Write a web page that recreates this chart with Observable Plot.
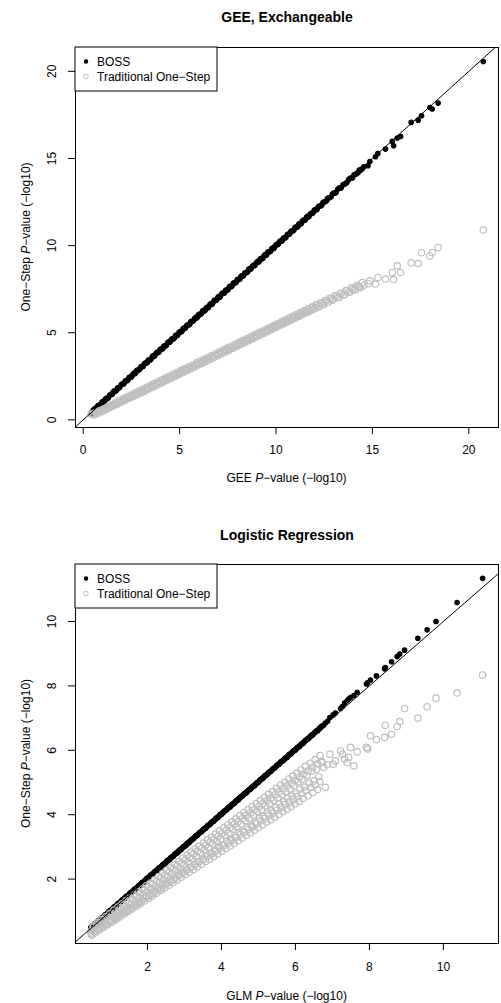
<!DOCTYPE html>
<html><head><meta charset="utf-8">
<script src="https://cdn.jsdelivr.net/npm/d3@7"></script>
<script src="https://cdn.jsdelivr.net/npm/@observablehq/plot@0.6"></script>
<style>
body{margin:0;background:#fff;}
#chart{width:501px;}
#chart svg{display:block;overflow:visible;}
</style></head><body><div id="chart"></div>
<script>
// ---------- Panel 1: GEE, Exchangeable ----------
const geeTitle = "GEE, Exchangeable";
const geeXName = "GEE";
const geeXTicks = [0, 5, 10, 15, 20];
const geeYTicks = [0, 5, 10, 15, 20];
// SNP set A: GEE -log10 p (x), BOSS one-step, traditional one-step
const geeX = [
  0.41,0.52,0.63,0.71,0.80,0.92,1.01,1.12,1.20,1.31,
  1.43,1.52,1.61,1.73,1.82,1.90,2.03,2.12,2.21,2.33,
  2.41,2.52,2.64,2.72,2.81,2.93,3.02,3.11,3.24,3.33,
  3.41,3.52,3.63,3.71,3.82,3.94,4.02,4.13,4.21,4.32,
  4.44,4.52,4.61,4.73,4.82,4.91,5.03,5.12,5.24,5.31,
  5.42,5.53,5.61,5.72,5.84,5.92,6.01,6.13,6.22,6.34,
  6.42,6.51,6.63,6.71,6.82,6.94,7.03,7.11,7.22,7.34,
  7.43,7.52,7.61,7.73,7.82,7.93,8.02,8.14,8.23,8.31,
  8.42,8.53,8.62,8.71,8.83,8.92,9.04,9.13,9.21,9.32,
  9.44,9.52,9.61,9.73,9.82,9.91,10.03,10.12,10.24,10.33,
  10.41,10.52,10.63,10.72,10.81,10.93,11.02,11.14,11.22,11.31,
  11.43,11.52,11.64,11.71,11.83,11.92,12.04,12.13,12.25,12.38,
  12.47,12.62,12.71,12.86,12.98,13.12,13.27,13.38,13.55,13.68,
  13.84,13.97,14.12,14.26,14.38,
  14.56,14.77,14.87,15.16,15.28,15.68,16.03,16.10,16.29,16.46,
  17.01,17.37,17.55,17.98,18.10,18.41,20.75
];
const geeBoss = [
  0.38,0.55,0.66,0.69,0.84,0.90,1.05,1.10,1.24,1.28,
  1.47,1.50,1.66,1.70,1.86,1.88,2.07,2.09,2.25,2.30,
  2.45,2.49,2.68,2.70,2.86,2.90,3.06,3.08,3.28,3.30,
  3.45,3.49,3.67,3.69,3.87,3.91,4.06,4.10,4.25,4.29,
  4.48,4.49,4.65,4.70,4.87,4.88,5.07,5.09,5.28,5.28,
  5.46,5.50,5.66,5.69,5.88,5.89,6.05,6.10,6.27,6.31,
  6.46,6.48,6.67,6.68,6.87,6.91,7.07,7.08,7.27,7.30,
  7.47,7.49,7.66,7.69,7.86,7.90,8.07,8.10,8.27,8.28,
  8.46,8.49,8.67,8.68,8.87,8.88,9.08,9.10,9.26,9.28,
  9.48,9.49,9.65,9.69,9.86,9.88,10.07,10.09,10.28,10.29,
  10.45,10.48,10.67,10.69,10.85,10.89,11.06,11.10,11.26,11.27,
  11.47,11.48,11.68,11.67,11.86,11.88,12.07,12.09,12.27,12.33,
  12.50,12.57,12.73,12.80,13.01,13.05,13.30,13.32,13.52,13.62,
  13.86,13.90,14.09,14.20,14.33,
  14.52,14.58,14.83,15.10,15.29,15.54,15.98,15.73,16.17,16.26,
  17.07,17.20,17.45,17.93,17.84,18.18,20.57
];
const geeTrad = [
  0.33,0.36,0.40,0.45,0.49,0.52,0.58,0.63,0.66,0.72,
  0.79,0.82,0.88,0.93,1.00,1.03,1.09,1.16,1.19,1.27,
  1.31,1.35,1.44,1.47,1.52,1.60,1.62,1.69,1.76,1.78,
  1.85,1.91,1.95,2.01,2.07,2.11,2.18,2.22,2.28,2.34,
  2.38,2.45,2.49,2.53,2.61,2.64,2.71,2.77,2.81,2.88,
  2.92,2.98,3.04,3.06,3.16,3.18,3.25,3.28,3.36,3.42,
  3.44,3.52,3.57,3.60,3.69,3.72,3.80,3.82,3.90,3.97,
  3.99,4.07,4.10,4.17,4.23,4.25,4.34,4.38,4.41,4.49,
  4.51,4.60,4.63,4.70,4.72,4.82,4.84,4.93,4.95,5.03,
  5.06,5.14,5.16,5.25,5.26,5.35,5.37,5.46,5.48,5.57,
  5.56,5.68,5.69,5.79,5.78,5.91,5.89,6.02,5.99,6.12,
  6.10,6.23,6.21,6.35,6.30,6.46,6.41,6.58,6.52,6.70,
  6.62,6.83,6.75,6.95,6.90,7.10,7.02,7.25,7.18,7.41,
  7.33,7.52,7.46,7.66,7.58,
  7.72,7.83,7.98,7.79,8.17,8.08,8.46,8.05,8.84,8.46,
  9.01,8.97,9.59,9.41,9.60,9.89,10.89
];
// SNP set B
const geeX2 = [
  0.46,0.57,0.67,0.76,0.86,0.97,1.06,1.16,1.26,1.37,
  1.48,1.56,1.67,1.78,1.86,1.97,2.08,2.17,2.27,2.37,
  2.47,2.58,2.68,2.77,2.87,2.98,3.07,3.17,3.29,3.37,
  3.47,3.58,3.67,3.77,3.88,3.98,4.08,4.17,4.27,4.38,
  4.48,4.57,4.67,4.78,4.87,4.97,5.08,5.18,5.28,5.37,
  5.48,5.57,5.67,5.78,5.88,5.97,6.07,6.18,6.28,6.38,
  6.47,6.57,6.67,6.77,6.88,6.98,7.07,7.17,7.28,7.38,
  7.48,7.57,7.67,7.78,7.88,7.98,8.08,8.18,8.27,8.37,
  8.48,8.58,8.67,8.77,8.88,8.98,9.08,9.17,9.27,9.38,
  9.48,9.57,9.67,9.78,9.87,9.97,10.08,10.18,10.28,10.37,
  10.47,10.58,10.68,10.77,10.87,10.98,11.08,11.18,11.27,11.37,
  11.48,11.58,11.68,11.77,11.88,11.98,12.08,12.19,12.31,12.43,
  12.55,12.67,12.79,12.92,13.05,13.20,13.33,13.47,13.62,13.76,
  13.91,14.05,14.19,14.32,14.47
];
const geeBoss2 = [
  0.44,0.60,0.64,0.80,0.83,1.01,1.03,1.20,1.22,1.41,
  1.45,1.60,1.64,1.82,1.83,2.01,2.05,2.21,2.24,2.41,
  2.44,2.62,2.65,2.81,2.84,3.02,3.04,3.21,3.26,3.41,
  3.44,3.62,3.64,3.81,3.85,4.02,4.05,4.21,4.24,4.42,
  4.45,4.61,4.64,4.82,4.84,5.01,5.05,5.22,5.25,5.41,
  5.45,5.61,5.64,5.82,5.85,6.01,6.04,6.22,6.25,6.42,
  6.44,6.61,6.64,6.81,6.85,7.02,7.04,7.21,7.25,7.42,
  7.45,7.61,7.64,7.82,7.85,8.02,8.05,8.22,8.24,8.41,
  8.45,8.62,8.64,8.81,8.85,9.02,9.05,9.21,9.24,9.42,
  9.45,9.61,9.64,9.82,9.84,10.01,10.05,10.22,10.25,10.41,
  10.44,10.62,10.65,10.81,10.84,11.02,11.05,11.22,11.24,11.41,
  11.45,11.62,11.65,11.81,11.85,12.02,12.05,12.23,12.28,12.46,
  12.52,12.70,12.75,12.95,13.01,13.23,13.29,13.49,13.58,13.78,
  13.87,14.07,14.14,14.34,14.41
];
const geeTrad2 = [
  0.34,0.28,0.42,0.38,0.53,0.47,0.62,0.58,0.73,0.70,
  0.86,0.80,0.98,0.91,1.09,1.01,1.21,1.12,1.32,1.22,
  1.42,1.33,1.54,1.43,1.64,1.54,1.75,1.63,1.87,1.75,
  1.97,1.85,2.08,1.95,2.19,2.07,2.30,2.17,2.41,2.28,
  2.52,2.38,2.62,2.50,2.73,2.60,2.84,2.71,2.95,2.81,
  3.05,2.92,3.15,3.03,3.27,3.14,3.37,3.25,3.48,3.36,
  3.58,3.46,3.69,3.56,3.80,3.68,3.91,3.78,4.02,3.89,
  4.13,4.00,4.23,4.11,4.34,4.22,4.45,4.32,4.55,4.42,
  4.66,4.54,4.77,4.64,4.88,4.75,4.99,4.85,5.09,4.97,
  5.20,5.07,5.30,5.18,5.41,5.28,5.52,5.40,5.63,5.50,
  5.73,5.61,5.85,5.71,5.95,5.83,6.06,5.93,6.16,6.04,
  6.27,6.15,6.38,6.25,6.49,6.36,6.60,6.48,6.72,6.61,
  6.85,6.73,6.98,6.87,7.12,7.02,7.27,7.16,7.42,7.32,
  7.58,7.47,7.73,7.62,7.88
];

// ---------- Panel 2: Logistic Regression ----------
const glmTitle = "Logistic Regression";
const glmXName = "GLM";
const glmXTicks = [2, 4, 6, 8, 10];
const glmYTicks = [2, 4, 6, 8, 10];
// SNP set A
const glmX = [
  0.47,0.50,0.56,0.61,0.66,0.73,0.78,0.84,0.89,0.95,
  1.00,1.06,1.12,1.17,1.22,1.28,1.34,1.39,1.45,1.50,
  1.55,1.61,1.67,1.72,1.78,1.83,1.88,1.94,2.00,2.05,
  2.11,2.16,2.22,2.27,2.33,2.39,2.44,2.49,2.55,2.61,
  2.66,2.71,2.77,2.83,2.88,2.93,2.99,3.05,3.10,3.15,
  3.21,3.27,3.32,3.37,3.43,3.49,3.54,3.59,3.65,3.71,
  3.76,3.81,3.87,3.93,3.98,4.03,4.09,4.15,4.20,4.25,
  4.31,4.37,4.42,4.47,4.53,4.59,4.64,4.69,4.75,4.81,
  4.86,4.91,4.97,5.03,5.08,5.13,5.19,5.25,5.30,5.35,
  5.41,5.47,5.52,5.57,5.63,5.69,5.74,5.79,5.85,5.91,
  5.96,6.01,6.07,6.13,6.18,6.24,6.31,6.37,6.44,6.50,
  6.57,6.63,6.72,6.76,6.81,6.87,
  6.93,7.02,7.08,7.22,7.27,7.33,7.40,7.44,7.49,7.58,
  7.67,7.92,7.95,8.03,8.19,8.41,8.43,8.60,8.75,8.82,
  8.95,9.31,9.56,9.80,10.37,11.06
];
const glmBoss = [
  0.49,0.52,0.58,0.64,0.68,0.76,0.80,0.87,0.91,0.98,
  1.03,1.08,1.15,1.19,1.25,1.30,1.37,1.41,1.48,1.52,
  1.58,1.63,1.70,1.74,1.81,1.85,1.91,1.96,2.03,2.07,
  2.14,2.18,2.25,2.29,2.36,2.41,2.47,2.51,2.58,2.63,
  2.69,2.73,2.80,2.85,2.91,2.95,3.02,3.07,3.13,3.17,
  3.24,3.29,3.35,3.39,3.46,3.51,3.57,3.61,3.68,3.73,
  3.79,3.83,3.90,3.95,4.01,4.05,4.12,4.17,4.23,4.27,
  4.34,4.39,4.45,4.49,4.56,4.61,4.67,4.71,4.78,4.83,
  4.89,4.93,5.00,5.05,5.11,5.15,5.22,5.27,5.33,5.37,
  5.44,5.49,5.55,5.59,5.66,5.71,5.77,5.81,5.88,5.93,
  5.99,6.03,6.10,6.15,6.21,6.26,6.34,6.39,6.47,6.52,
  6.60,6.65,6.75,6.78,6.85,6.90,
  7.02,7.10,7.16,7.30,7.36,7.47,7.54,7.59,7.64,7.70,
  7.80,8.06,8.10,8.18,8.31,8.53,8.57,8.75,8.91,8.99,
  9.11,9.48,9.74,10.00,10.59,11.34
];
const glmTrad = [
  0.36,0.41,0.38,0.47,0.44,0.55,0.52,0.63,0.60,0.70,
  0.74,0.71,0.86,0.80,0.95,0.88,1.02,0.97,1.12,1.05,
  1.20,1.13,1.31,1.22,1.40,1.29,1.51,1.42,1.60,1.48,
  1.71,1.55,1.78,1.66,1.90,1.70,1.97,1.84,2.08,1.93,
  2.16,1.98,2.27,2.12,2.33,2.20,2.45,2.29,2.52,2.36,
  2.63,2.46,2.71,2.53,2.82,2.60,2.90,2.72,2.98,2.80,
  3.10,2.86,3.17,3.01,3.25,3.04,3.36,3.18,3.44,3.22,
  3.55,3.30,3.62,3.45,3.71,3.48,3.82,3.60,3.90,3.66,
  3.99,3.75,4.10,3.89,4.16,3.94,4.28,4.05,4.35,4.12,
  4.45,4.22,4.52,4.34,4.63,4.40,4.72,4.51,4.80,4.58,
  4.91,4.66,5.02,4.80,5.10,4.86,5.22,4.98,5.35,5.05,
  5.41,5.18,5.62,5.47,4.85,5.55,
  5.88,5.57,5.67,5.98,5.88,5.73,5.62,5.78,6.09,5.52,
  5.95,6.09,6.04,6.45,6.33,6.40,6.78,6.50,6.74,6.89,
  7.30,7.00,7.35,7.62,7.78,8.34
];
// SNP set B
const glmX2 = [
  0.49,0.53,0.59,0.64,0.70,0.75,0.81,0.87,0.92,0.98,
  1.03,1.09,1.14,1.20,1.25,1.31,1.37,1.42,1.47,1.53,
  1.58,1.64,1.70,1.75,1.80,1.86,1.91,1.97,2.03,2.08,
  2.13,2.19,2.25,2.30,2.36,2.41,2.47,2.52,2.58,2.63,
  2.69,2.74,2.80,2.85,2.91,2.96,3.02,3.07,3.13,3.18,
  3.24,3.29,3.35,3.40,3.46,3.51,3.57,3.62,3.68,3.73,
  3.79,3.84,3.90,3.95,4.01,4.06,4.12,4.17,4.23,4.28,
  4.34,4.39,4.45,4.50,4.56,4.61,4.67,4.72,4.78,4.83,
  4.89,4.94,5.00,5.05,5.11,5.16,5.22,5.27,5.33,5.38,
  5.44,5.49,5.55,5.60,5.66,5.71,5.77,5.82,5.88,5.93,
  5.99,6.04,6.10,6.15,6.21,6.27,6.34,6.40,6.47,6.53,
  6.60,6.67
];
const glmBoss2 = [
  0.50,0.56,0.60,0.67,0.71,0.78,0.82,0.90,0.93,1.01,
  1.04,1.12,1.15,1.23,1.26,1.34,1.38,1.45,1.48,1.56,
  1.59,1.67,1.71,1.78,1.81,1.89,1.92,2.00,2.04,2.11,
  2.14,2.22,2.26,2.33,2.37,2.44,2.48,2.55,2.59,2.66,
  2.70,2.77,2.81,2.88,2.92,2.99,3.03,3.10,3.14,3.21,
  3.25,3.32,3.36,3.43,3.47,3.54,3.58,3.65,3.69,3.76,
  3.80,3.87,3.91,3.98,4.02,4.09,4.13,4.20,4.24,4.31,
  4.35,4.42,4.46,4.53,4.57,4.64,4.68,4.75,4.79,4.86,
  4.90,4.97,5.01,5.08,5.12,5.19,5.23,5.30,5.34,5.41,
  5.45,5.52,5.56,5.63,5.67,5.74,5.78,5.85,5.89,5.96,
  6.00,6.07,6.11,6.18,6.22,6.30,6.35,6.43,6.48,6.56,
  6.61,6.70
];
const glmTrad2 = [
  0.26,0.54,0.33,0.64,0.42,0.74,0.50,0.84,0.58,0.93,
  0.66,1.04,0.74,1.13,0.82,1.23,0.92,1.33,0.99,1.41,
  1.07,1.51,1.16,1.61,1.23,1.70,1.32,1.80,1.40,1.88,
  1.47,1.98,1.56,2.08,1.65,2.17,1.73,2.27,1.81,2.36,
  1.89,2.45,1.97,2.55,2.06,2.65,2.14,2.74,2.21,2.83,
  2.30,2.93,2.38,3.02,2.46,3.12,2.55,3.22,2.62,3.30,
  2.70,3.40,2.79,3.50,2.87,3.59,2.95,3.69,3.03,3.78,
  3.11,3.87,3.19,3.97,3.28,4.07,3.36,4.16,3.43,4.25,
  3.52,4.35,3.60,4.44,3.68,4.54,3.77,4.64,3.84,4.72,
  3.92,4.82,4.01,4.92,4.09,5.01,4.17,5.11,4.25,5.20,
  4.33,5.29,4.41,5.39,4.50,5.50,4.59,5.60,4.69,5.71,
  4.78,5.84
];
// SNP set C
const glmX3 = [
  0.48,0.54,0.58,0.63,0.68,0.71,0.76,0.82,0.86,0.93,
  0.97,1.04,1.10,1.15,1.19,1.26,1.32,1.36,1.43,1.48,
  1.53,1.59,1.65,1.69,1.76,1.81,1.85,1.92,1.98,2.02,
  2.09,2.14,2.20,2.25,2.31,2.37,2.42,2.47,2.53,2.59,
  2.64,2.69,2.75,2.81,2.86,2.91,2.97,3.03,3.08,3.13,
  3.19,3.25,3.30,3.35,3.41,3.47,3.52,3.57,3.63,3.69,
  3.74,3.79,3.85,3.91,3.96,4.01,4.07,4.13,4.18,4.23,
  4.29,4.35,4.40,4.45,4.51,4.57,4.62,4.67,4.73,4.79,
  4.84,4.89,4.95,5.01,5.06,5.11,5.17,5.23,5.28,5.33,
  5.39,5.45,5.50,5.55,5.61,5.67,5.72,5.77,5.83,5.89,
  5.94,5.99,6.05,6.11,6.16,6.22,6.28,6.34,6.41,6.47,
  6.54,6.60,6.66,6.70
];
const glmBoss3 = [
  0.51,0.56,0.61,0.65,0.71,0.73,0.79,0.84,0.89,0.95,
  1.00,1.06,1.13,1.17,1.22,1.28,1.35,1.38,1.46,1.50,
  1.56,1.61,1.68,1.71,1.79,1.83,1.88,1.94,2.01,2.04,
  2.12,2.16,2.23,2.27,2.34,2.39,2.45,2.49,2.56,2.61,
  2.67,2.71,2.78,2.83,2.89,2.93,3.00,3.05,3.11,3.15,
  3.22,3.27,3.33,3.37,3.44,3.49,3.55,3.59,3.66,3.71,
  3.77,3.81,3.88,3.93,3.99,4.03,4.10,4.15,4.21,4.25,
  4.32,4.37,4.43,4.47,4.54,4.59,4.65,4.69,4.76,4.81,
  4.87,4.91,4.98,5.03,5.09,5.13,5.20,5.25,5.31,5.35,
  5.42,5.47,5.53,5.57,5.64,5.69,5.75,5.79,5.86,5.91,
  5.97,6.01,6.08,6.13,6.19,6.24,6.31,6.36,6.44,6.49,
  6.57,6.62,6.69,6.73
];
const glmTrad3 = [
  0.30,0.51,0.38,0.58,0.46,0.66,0.52,0.75,0.60,0.83,
  0.68,0.93,0.78,1.02,0.85,1.12,0.95,1.20,1.03,1.29,
  1.10,1.39,1.20,1.47,1.29,1.58,1.35,1.67,1.45,1.75,
  1.53,1.85,1.62,1.94,1.71,2.04,1.80,2.12,1.87,2.22,
  1.95,2.31,2.04,2.41,2.13,2.50,2.21,2.59,2.29,2.67,
  2.38,2.78,2.46,2.86,2.55,2.96,2.63,3.05,2.71,3.14,
  2.79,3.23,2.88,3.33,2.97,3.41,3.05,3.51,3.13,3.59,
  3.21,3.70,3.30,3.78,3.39,3.88,3.47,3.97,3.55,4.06,
  3.63,4.15,3.72,4.25,3.81,4.34,3.89,4.43,3.97,4.51,
  4.05,4.62,4.14,4.70,4.23,4.81,4.31,4.89,4.39,4.98,
  4.47,5.07,4.56,5.17,4.65,5.26,4.74,5.36,4.84,5.47,
  4.93,5.58,5.03,5.66
];

const legendLabels = ["BOSS", "Traditional One\u2212Step"];
const FONT = "'Liberation Sans', Arial, Helvetica, sans-serif";
const GREY = "#bebebe";

function toRows(xs, boss, trad) {
  const n = Math.min(xs.length, boss.length, trad.length);
  return d3.range(n).map(i => ({x: xs[i], boss: boss[i], trad: trad[i]}));
}

function panel(cfg) {
  const rows = cfg.sets.flatMap(s => toRows(s[0], s[1], s[2]));
  const [x0, x1] = cfg.xDomain, [y0, y1] = cfg.yDomain;
  const ref = [Math.max(x0, y0), Math.min(x1, y1)];
  const W = 501, mL = 75, mR = 3;
  const svg = Plot.plot({
    width: W, height: cfg.height,
    marginTop: cfg.mt, marginBottom: cfg.mb, marginLeft: mL, marginRight: mR,
    style: {fontFamily: FONT, fontSize: "12px", background: "white", color: "black"},
    x: {domain: cfg.xDomain, label: null},
    y: {domain: cfg.yDomain, label: null},
    marks: [
      Plot.axisX({ticks: cfg.xTicks, tickSize: 7, tickPadding: cfg.xPad, label: null, tickFormat: d => String(d)}),
      Plot.axisY({ticks: cfg.yTicks, tickSize: 7, label: null, tickFormat: () => ""}),
      Plot.text(cfg.yTicks, {y: d => d, text: d => String(d), frameAnchor: "left", dx: -23, rotate: -90, lineAnchor: "middle", textAnchor: "middle"}),
      Plot.dot(rows, {x: "x", y: "boss", r: 2.8, fill: "black", stroke: "none"}),
      Plot.dot(rows, {x: "x", y: "trad", r: 3.2, fill: "none", stroke: GREY, strokeWidth: cfg.greyW}),
      Plot.line(ref, {x: d => d, y: d => d, stroke: "black", strokeWidth: 1}),
      Plot.frame({stroke: "black", strokeWidth: 1}),
      Plot.text([cfg.title], {frameAnchor: "top", lineAnchor: "middle", dy: cfg.titleDy, fontWeight: "bold", fontSize: 14})
    ]
  });
  const s = d3.select(svg);
  const plotH = cfg.height - cfg.mt - cfg.mb;
  const cx = mL + (W - mL - mR) / 2;
  const xl = s.append("text").attr("x", cx).attr("y", cfg.height - cfg.mb + cfg.xLabY)
    .attr("text-anchor", "middle").attr("font-family", FONT).attr("font-size", 12).attr("fill", "black");
  xl.append("tspan").text(cfg.xName + " ");
  xl.append("tspan").attr("font-style", "italic").text("P");
  xl.append("tspan").text("\u2212value (\u2212log10)");
  const yl = s.append("text").attr("transform", `translate(26,${cfg.mt + plotH / 2}) rotate(-90)`)
    .attr("text-anchor", "middle").attr("dominant-baseline", "central")
    .attr("font-family", FONT).attr("font-size", 12).attr("fill", "black");
  yl.append("tspan").text("One\u2212Step ");
  yl.append("tspan").attr("font-style", "italic").text("P");
  yl.append("tspan").text("\u2212value (\u2212log10)");
  const lg = s.append("g").attr("transform", `translate(${mL},${cfg.mt})`);
  lg.append("rect").attr("x", 0).attr("y", 0).attr("width", 142).attr("height", 44)
    .attr("fill", "white").attr("stroke", "black").attr("stroke-width", 1);
  lg.append("circle").attr("cx", 11).attr("cy", 14.5).attr("r", 2.2).attr("fill", "black");
  lg.append("circle").attr("cx", 11).attr("cy", 29.5).attr("r", 2.3).attr("fill", "none").attr("stroke", GREY).attr("stroke-width", 1);
  legendLabels.forEach((t, i) => {
    lg.append("text").attr("x", 22).attr("y", 14.5 + 15 * i).attr("dominant-baseline", "central")
      .attr("text-anchor", "start")
      .attr("font-family", FONT).attr("font-size", 12).attr("fill", "black").text(t);
  });
  return svg;
}

const chart = document.getElementById("chart");
chart.appendChild(panel({
  title: geeTitle, xName: geeXName,
  sets: [[geeX, geeBoss, geeTrad], [geeX2, geeBoss2, geeTrad2]],
  xTicks: geeXTicks, yTicks: geeYTicks,
  xDomain: [-0.40, 21.54], yDomain: [-0.44, 21.37],
  height: 501, mt: 47, mb: 74, titleDy: -29.5, xPad: 10.5, xLabY: 55, greyW: 1.1
}));
chart.appendChild(panel({
  title: glmTitle, xName: glmXName,
  sets: [[glmX, glmBoss, glmTrad], [glmX2, glmBoss2, glmTrad2], [glmX3, glmBoss3, glmTrad3]],
  xTicks: glmXTicks, yTicks: glmYTicks,
  xDomain: [0.054, 11.49], yDomain: [0.0, 11.77],
  height: 502, mt: 63, mb: 60, titleDy: -29, xPad: 11.8, xLabY: 57, greyW: 1.2
}));
</script></body></html>
